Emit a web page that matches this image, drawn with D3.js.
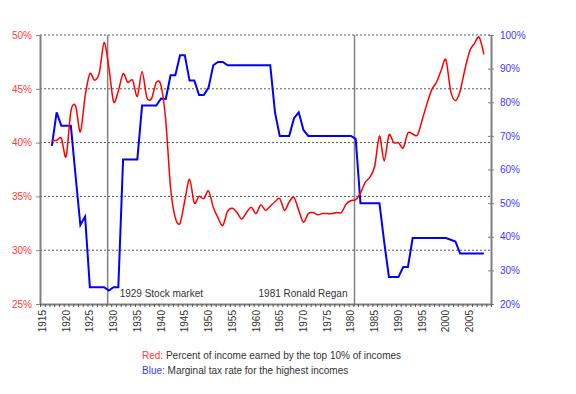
<!DOCTYPE html>
<html>
<head>
  <meta charset="utf-8">
  <title>Top 10% income share and top marginal tax rate</title>
  <script src="https://cdn.jsdelivr.net/npm/d3@7"></script>
  <style>
    body { margin: 0; background: #fff; }
    text { font-family: "Liberation Sans", Arial, sans-serif; font-size: 10px; }
  </style>
</head>
<body>
  <div id="chart"></div>

  <script>
    // years covered by both series
    var years = d3.range(1917, 2009);

    // red: percent of income earned by the top 10% (left axis)
    var topShare = [
      40.2, 40.2, 40.4, 38.7, 42.9, 43.4, 41.0, 44.3, 46.4, 45.8,   // 1917-1926
      46.5, 49.3, 47.0, 43.8, 44.8, 46.4, 45.6, 45.8, 44.3, 46.6,   // 1927-1936
      44.2, 44.1, 45.6, 45.3, 42.0, 35.8, 33.0, 32.5, 34.6, 36.6,   // 1937-1946
      34.4, 35.0, 34.8, 35.5, 34.0, 33.0, 32.3, 33.6, 33.9, 33.5,   // 1947-1956
      32.9, 33.5, 34.0, 33.4, 34.2, 33.7, 34.1, 34.5, 34.8, 33.7,   // 1957-1966
      34.5, 34.9, 33.7, 32.6, 33.4, 33.5, 33.3, 33.4, 33.4, 33.4,   // 1967-1976
      33.5, 33.5, 34.3, 34.6, 34.7, 35.3, 36.3, 36.8, 37.8, 40.6,   // 1977-1986
      38.3, 40.7, 40.0, 40.0, 39.5, 40.9, 40.8, 40.7, 42.1, 43.6,   // 1987-1996
      44.9, 45.6, 46.7, 47.7, 44.8, 43.9, 44.8, 46.8, 48.5, 49.2,   // 1997-2006
      49.8, 48.2                                                    // 2007-2008
    ];

    // blue: marginal tax rate for the highest incomes (right axis)
    var topRate = [
      67, 77, 73, 73, 73, 58, 43.5, 46, 25, 25,                     // 1917-1926
      25, 25, 24, 25, 25, 63, 63, 63, 63, 79,                       // 1927-1936
      79, 79, 79, 81.1, 81, 88, 88, 94, 94, 86.45,                  // 1937-1946
      86.45, 82.13, 82.13, 84.36, 91, 92, 92, 91, 91, 91,           // 1947-1956
      91, 91, 91, 91, 91, 91, 91, 77, 70, 70,                       // 1957-1966
      70, 75.25, 77, 71.75, 70, 70, 70, 70, 70, 70,                 // 1967-1976
      70, 70, 70, 70, 69.13, 50, 50, 50, 50, 50,                    // 1977-1986
      38.5, 28, 28, 28, 31, 31, 39.6, 39.6, 39.6, 39.6,             // 1987-1996
      39.6, 39.6, 39.6, 39.6, 39.1, 38.6, 35, 35, 35, 35,           // 1997-2006
      35, 35                                                        // 2007-2008
    ];

    var shareTicks = [25, 30, 35, 40, 45, 50];
    var rateTicks = [20, 30, 40, 50, 60, 70, 80, 90, 100];
    var yearLabels = d3.range(1915, 2006, 5);
    var eventYears = [1929, 1981];
    var eventLabels = ["1929 Stock market", "1981 Ronald Regan"];

    var width = 576, height = 394;
    var plotLeft = 40, plotRight = 491, plotTop = 35, plotBottom = 304;

    var svg = d3.select("#chart").append("svg")
      .attr("width", width)
      .attr("height", height);

    var x = d3.scaleLinear().domain([1915, 2010]).range([plotLeft, plotRight]);
    var yShare = d3.scaleLinear().domain([25, 50]).range([plotBottom, plotTop]);
    var yRate = d3.scaleLinear().domain([20, 100]).range([plotBottom, plotTop]);

    // each year sits in the middle of its slot
    function xYear(d) { return x(d + 0.5); }

    // dotted gridlines
    svg.append("g").selectAll("line")
      .data(shareTicks.slice(1))
      .enter().append("line")
        .attr("x1", plotLeft).attr("x2", plotRight)
        .attr("y1", function (d) { return yShare(d); })
        .attr("y2", function (d) { return yShare(d); })
        .style("stroke", "#555")
        .style("stroke-dasharray", "2,2");

    // event markers
    var ev = svg.append("g").selectAll("g")
      .data(eventYears)
      .enter().append("g");
    ev.append("line")
      .attr("x1", function (d) { return x(d + 0.25); })
      .attr("x2", function (d) { return x(d + 0.25); })
      .attr("y1", plotTop).attr("y2", plotBottom)
      .style("stroke", "#808080")
      .style("stroke-width", 1.5);
    ev.append("text")
      .attr("x", function (d, i) { return i == 0 ? x(d + 0.25) + 12 : x(d + 0.25) - 7; })
      .attr("y", 297)
      .attr("text-anchor", function (d, i) { return i == 0 ? "start" : "end"; })
      .style("fill", "#333")
      .text(function (d, i) { return eventLabels[i]; });

    // left axis (red)
    var leftAxis = svg.append("g")
      .attr("transform", "translate(" + plotLeft + ",0)")
      .call(d3.axisLeft(yShare).tickValues(shareTicks)
        .tickFormat(function (d) { return d + "%"; })
        .tickSizeInner(4).tickSizeOuter(0).tickPadding(4));
    leftAxis.select(".domain").style("stroke", "#808080").style("stroke-width", 2);
    leftAxis.selectAll(".tick line").style("stroke", "#808080");
    leftAxis.selectAll("text").style("fill", "#ff3b3b").style("font-size", "10px")
      .style("font-family", "Liberation Sans, Arial, sans-serif");

    // right axis (blue), ticks cross the line
    var rightAxis = svg.append("g")
      .attr("transform", "translate(" + plotRight + ",0)")
      .call(d3.axisRight(yRate).tickValues(rateTicks)
        .tickFormat(function (d) { return d + "%"; })
        .tickSizeInner(3).tickSizeOuter(0).tickPadding(6));
    rightAxis.select(".domain").style("stroke", "#808080").style("stroke-width", 2);
    rightAxis.selectAll(".tick line").attr("x1", -3).style("stroke", "#808080");
    rightAxis.selectAll("text").style("fill", "#3b3bff").style("font-size", "10px")
      .style("font-family", "Liberation Sans, Arial, sans-serif");

    // bottom axis: a tick every year
    var bottomAxis = svg.append("g")
      .attr("transform", "translate(0," + plotBottom + ")")
      .call(d3.axisBottom(x).tickValues(d3.range(1915, 2011))
        .tickFormat("").tickSizeInner(3).tickSizeOuter(0));
    bottomAxis.select(".domain").style("stroke", "#808080").style("stroke-width", 2);
    bottomAxis.selectAll(".tick line").style("stroke", "#555");

    svg.append("g").selectAll("text")
      .data(yearLabels)
      .enter().append("text")
        .attr("transform", function (d) { return "translate(" + xYear(d) + ",310) rotate(-90)"; })
        .attr("text-anchor", "end")
        .attr("dy", "0.35em")
        .style("fill", "#333")
        .text(function (d) { return d; });

    // series
    var shareLine = d3.line()
      .x(function (d, i) { return xYear(years[i]); })
      .y(function (d) { return yShare(d); })
      .curve(d3.curveCardinal.tension(0.1));
    var rateLine = d3.line()
      .x(function (d, i) { return xYear(years[i]); })
      .y(function (d) { return yRate(d); });

    svg.append("path")
      .datum(topRate)
      .attr("d", rateLine)
      .style("fill", "none")
      .style("stroke", "#0000ff")
      .style("stroke-width", 2);

    svg.append("path")
      .datum(topShare)
      .attr("d", shareLine)
      .style("fill", "none")
      .style("stroke", "#ff0000")
      .style("stroke-width", 1.5);

    // legend
    var legend = svg.append("g");
    var l1 = legend.append("text").attr("x", 142).attr("y", 359);
    l1.append("tspan").style("fill", "#ff3b3b").text("Red:");
    l1.append("tspan").style("fill", "#333").text(" Percent of income earned by the top 10% of incomes");
    var l2 = legend.append("text").attr("x", 142).attr("y", 374);
    l2.append("tspan").style("fill", "#3b3bff").text("Blue:");
    l2.append("tspan").style("fill", "#333").text(" Marginal tax rate for the highest incomes");
  </script>
</body>
</html>
